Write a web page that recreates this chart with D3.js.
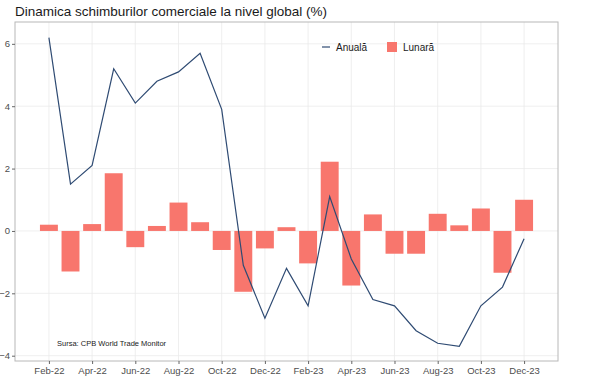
<!DOCTYPE html>
<html>
<head>
<meta charset="utf-8">
<script src="https://cdn.jsdelivr.net/npm/d3@7"></script>
<style>
  body { margin: 0; background: #fff; }
  svg { font-family: "Liberation Sans", Arial, sans-serif; }
</style>
</head>
<body>
<div id="chart"></div>
<script>
// Months on the x axis
var months = ['Feb-22', 'Mar-22', 'Apr-22', 'May-22', 'Jun-22', 'Jul-22', 'Aug-22', 'Sep-22',
              'Oct-22', 'Nov-22', 'Dec-22', 'Jan-23', 'Feb-23', 'Mar-23', 'Apr-23', 'May-23',
              'Jun-23', 'Jul-23', 'Aug-23', 'Sep-23', 'Oct-23', 'Nov-23', 'Dec-23'];

// Annual change (line)
var anuala = [6.2, 1.5, 2.1, 5.2, 4.1, 4.8, 5.1, 5.7, 3.9, -1.1, -2.8, -1.2,
              -2.4, 1.1, -0.9, -2.2, -2.4, -3.2, -3.6, -3.7, -2.4, -1.8, -0.25];

// Monthly change (bars)
var lunara = [0.2, -1.3, 0.22, 1.85, -0.52, 0.16, 0.91, 0.28, -0.61, -1.95, -0.56, 0.12,
              -1.04, 2.22, -1.75, 0.53, -0.73, -0.73, 0.55, 0.18, 0.72, -1.34, 1.0];

var xTickLabels = ['Feb-22', 'Apr-22', 'Jun-22', 'Aug-22', 'Oct-22', 'Dec-22',
                   'Feb-23', 'Apr-23', 'Jun-23', 'Aug-23', 'Oct-23', 'Dec-23'];
var yTicks = [-4, -2, 0, 2, 4, 6];

var width = 600, height = 390;
var panel = { left: 15, right: 558, top: 22, bottom: 361 };
var barColor = '#f8766d';
var lineColor = '#2f4b73';

var svg = d3.select('#chart').append('svg')
            .attr('width', width)
            .attr('height', height);

var x = d3.scalePoint()
          .domain(months)
          .range([panel.left, panel.right])
          .padding(1.57);

var y = d3.scaleLinear()
          .domain([-4.17, 6.7])
          .range([panel.bottom, panel.top]);

var step = x.step();
var barWidth = step * 0.83;

// Grid lines
var grid = svg.append('g').attr('class', 'grid');
grid.selectAll('line.gy')
    .data(yTicks)
    .enter().append('line')
    .attr('class', 'gy')
    .attr('x1', panel.left).attr('x2', panel.right)
    .attr('y1', function(d) { return y(d); })
    .attr('y2', function(d) { return y(d); })
    .attr('stroke', '#ebebeb')
    .attr('stroke-width', 0.8);
grid.selectAll('line.gx')
    .data(xTickLabels)
    .enter().append('line')
    .attr('class', 'gx')
    .attr('y1', panel.top).attr('y2', panel.bottom)
    .attr('x1', function(d) { return x(d); })
    .attr('x2', function(d) { return x(d); })
    .attr('stroke', '#ebebeb')
    .attr('stroke-width', 0.8);

// Bars
svg.append('g').selectAll('rect')
   .data(lunara)
   .enter().append('rect')
   .attr('x', function(d, i) { return x(months[i]) - barWidth / 2; })
   .attr('y', function(d) { return y(Math.max(0, d)); })
   .attr('width', barWidth)
   .attr('height', function(d) { return Math.abs(y(d) - y(0)); })
   .attr('fill', barColor);

// Line
var line = d3.line()
             .x(function(d, i) { return x(months[i]); })
             .y(function(d) { return y(d); });

svg.append('path')
   .datum(anuala)
   .attr('d', line)
   .attr('fill', 'none')
   .attr('stroke', lineColor)
   .attr('stroke-width', 1.2);

// Panel border
svg.append('rect')
   .attr('x', panel.left)
   .attr('y', panel.top)
   .attr('width', panel.right - panel.left)
   .attr('height', panel.bottom - panel.top)
   .attr('fill', 'none')
   .attr('stroke', '#b8b8b8')
   .attr('stroke-width', 1);

// Axes
var xAxis = svg.append('g')
               .attr('transform', 'translate(0,' + panel.bottom + ')')
               .call(d3.axisBottom(x).tickValues(xTickLabels).tickSize(3).tickPadding(3));
var yAxis = svg.append('g')
               .attr('transform', 'translate(' + panel.left + ',0)')
               .call(d3.axisLeft(y).tickValues(yTicks).tickSize(3).tickPadding(2));

[xAxis, yAxis].forEach(function(a) {
  a.select('.domain').remove();
  a.selectAll('line').attr('stroke', '#666');
  a.selectAll('text')
   .attr('fill', '#4d4d4d')
   .style('font-size', '9.5px')
   .style('font-family', '"Liberation Sans", Arial, sans-serif');
});

// Title
svg.append('text')
   .attr('x', 15)
   .attr('y', 16)
   .attr('fill', '#1a1a1a')
   .style('font-size', '13.5px')
   .text('Dinamica schimburilor comerciale la nivel global (%)');

// Legend
var legend = svg.append('g').attr('transform', 'translate(322,47)');
legend.append('line')
      .attr('x1', 0).attr('x2', 8)
      .attr('y1', 0).attr('y2', 0)
      .attr('stroke', lineColor)
      .attr('stroke-width', 1.2);
legend.append('text')
      .attr('x', 14).attr('y', 3.5)
      .attr('fill', '#1a1a1a')
      .style('font-size', '10px')
      .text('Anuală');
legend.append('rect')
      .attr('x', 65).attr('y', -5)
      .attr('width', 10).attr('height', 10)
      .attr('fill', barColor);
legend.append('text')
      .attr('x', 81).attr('y', 3.5)
      .attr('fill', '#1a1a1a')
      .style('font-size', '10px')
      .text('Lunară');

// Source note
svg.append('text')
   .attr('x', 57)
   .attr('y', 346)
   .attr('fill', '#1a1a1a')
   .style('font-size', '7.5px')
   .text('Sursa: CPB World Trade Monitor');
</script>
</body>
</html>
